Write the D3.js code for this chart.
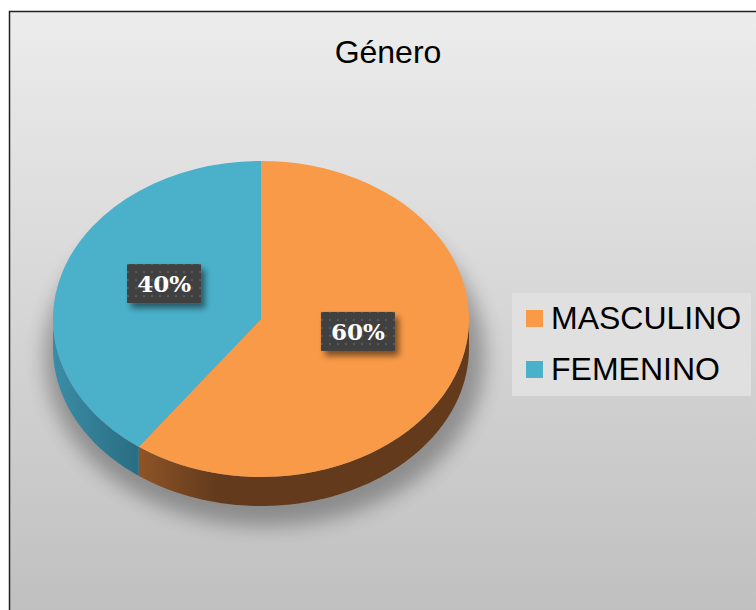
<!DOCTYPE html>
<html lang="es">
  <head>
    <meta charset="UTF-8" />
    <title>Género</title>
    <script src="https://d3js.org/d3.v7.min.js"></script>
    <style>
      html, body { margin: 0; padding: 0; background: #fff; }
      svg { display: block; }
      text { font-family: "Liberation Sans", Arial, sans-serif; }
    </style>
  </head>
  <body>
    <svg id="chart" width="756" height="610"></svg>
    <script>
      // data
      var categories = ["MASCULINO", "FEMENINO"];
      var values = [60, 40];
      var labels = ["60%", "40%"];
      var title = "Género";

      // styles
      var topColors = ["#f99a48", "#4bb0ca"];
      var sideColors = [["#935628", "#633b1c"], ["#3a8ca5", "#2a6e84"]];

      var svg = d3.select("#chart");
      var defs = svg.append("defs");

      var bg = defs.append("linearGradient").attr("id", "bg")
        .attr("x1", 0).attr("y1", 0).attr("x2", 0).attr("y2", 1);
      bg.append("stop").attr("offset", "0%").attr("stop-color", "#ececec");
      bg.append("stop").attr("offset", "100%").attr("stop-color", "#bfbfbf");

      sideColors.forEach(function (c, i) {
        var g = defs.append("linearGradient").attr("id", "side" + i)
          .attr("gradientUnits", "userSpaceOnUse")
          .attr("x1", i === 0 ? 132 : 55).attr("x2", i === 0 ? 215 : 135)
          .attr("y1", 0).attr("y2", 0);
        g.append("stop").attr("offset", "0%").attr("stop-color", c[0]);
        g.append("stop").attr("offset", "100%").attr("stop-color", c[1]);
      });

      var blur = defs.append("filter").attr("id", "blur")
        .attr("x", "-20%").attr("y", "-20%").attr("width", "140%").attr("height", "140%");
      blur.append("feGaussianBlur").attr("stdDeviation", 10);

      var lblShadow = defs.append("filter").attr("id", "lblShadow")
        .attr("x", "-30%").attr("y", "-30%").attr("width", "160%").attr("height", "180%");
      lblShadow.append("feGaussianBlur").attr("in", "SourceAlpha").attr("stdDeviation", 3);
      lblShadow.append("feOffset").attr("dx", 4).attr("dy", 5).attr("result", "off");
      lblShadow.append("feComponentTransfer").append("feFuncA").attr("type", "linear").attr("slope", 0.5);
      var m = lblShadow.append("feMerge");
      m.append("feMergeNode");
      m.append("feMergeNode").attr("in", "SourceGraphic");

      var dots = defs.append("pattern").attr("id", "dots")
        .attr("patternUnits", "userSpaceOnUse").attr("width", 8).attr("height", 8);
      dots.append("rect").attr("width", 8).attr("height", 8).attr("fill", "#404040");
      dots.append("rect").attr("x", 3).attr("y", 3).attr("width", 2).attr("height", 2).attr("fill", "#5a5a5a");

      // chart area
      svg.append("rect")
        .attr("x", 9.5).attr("y", 11.5).attr("width", 760).attr("height", 610)
        .attr("fill", "url(#bg)").attr("stroke", "#222").attr("stroke-width", 1.5);

      svg.append("text")
        .attr("x", 388).attr("y", 63)
        .attr("text-anchor", "middle")
        .style("font-size", "32px").style("fill", "#000")
        .text(title);

      // pie geometry
      var cx = 261, cy = 319, rx = 208, ry = 158, depth = 29;

      var pie = d3.pie().sort(null).value(function (d) { return d; });
      var arcs = pie(values);

      function pt(a, r, dy) {
        return [cx + r * rx * Math.sin(a), cy - r * ry * Math.cos(a) + (dy || 0)];
      }

      // shadow under the pie
      svg.append("ellipse")
        .attr("cx", cx + 4).attr("cy", cy + depth + 8)
        .attr("rx", rx + 12).attr("ry", ry + 12)
        .attr("fill", "#000").attr("opacity", 0.3)
        .attr("filter", "url(#blur)");

      // side walls (front half only)
      var line = d3.line();
      arcs.forEach(function (d, i) {
        var a0 = Math.max(d.startAngle, Math.PI / 2);
        var a1 = Math.min(d.endAngle, 3 * Math.PI / 2);
        if (a0 >= a1) return;
        var steps = d3.range(a0, a1, 0.01).concat([a1]);
        var top = steps.map(function (a) { return pt(a, 1, 0); });
        var bot = steps.slice().reverse().map(function (a) { return pt(a, 1, depth); });
        svg.append("path")
          .attr("d", line(top.concat(bot)) + "Z")
          .attr("fill", "url(#side" + i + ")");
      });

      // top face
      var arc = d3.arc().innerRadius(0).outerRadius(rx);
      svg.append("g")
        .attr("transform", "translate(" + cx + "," + cy + ") scale(1," + (ry / rx) + ")")
        .selectAll("path")
        .data(arcs)
        .join("path")
        .attr("d", arc)
        .attr("fill", function (d, i) { return topColors[i]; });

      // data labels
      var lblG = svg.selectAll("g.lbl")
        .data(arcs)
        .join("g")
        .attr("class", "lbl")
        .attr("transform", function (d) {
          var p = pt((d.startAngle + d.endAngle) / 2, 0.49, -11);
          return "translate(" + p[0] + "," + p[1] + ")";
        });
      lblG.append("rect")
        .attr("x", -37).attr("y", -20).attr("width", 74).attr("height", 39)
        .attr("fill", "url(#dots)")
        .attr("filter", "url(#lblShadow)");
      lblG.append("text")
        .attr("text-anchor", "middle")
        .attr("y", 8)
        .style("font-family", "'DejaVu Serif', 'Liberation Serif', serif")
        .style("font-weight", "bold")
        .style("font-size", "23px")
        .style("fill", "#fff")
        .text(function (d, i) { return labels[i]; });

      // legend
      var legend = svg.append("g");
      legend.append("rect")
        .attr("x", 512).attr("y", 293).attr("width", 239).attr("height", 103)
        .attr("fill", "#e0e0e0");
      var item = legend.selectAll("g.item")
        .data(categories)
        .join("g")
        .attr("class", "item")
        .attr("transform", function (d, i) { return "translate(526," + (310 + i * 51) + ")"; });
      item.append("rect")
        .attr("width", 17).attr("height", 17)
        .attr("fill", function (d, i) { return topColors[i]; });
      item.append("text")
        .attr("x", 25).attr("y", 19)
        .style("font-size", "32px").style("fill", "#000")
        .text(function (d) { return d; });
    </script>
  </body>
</html>
